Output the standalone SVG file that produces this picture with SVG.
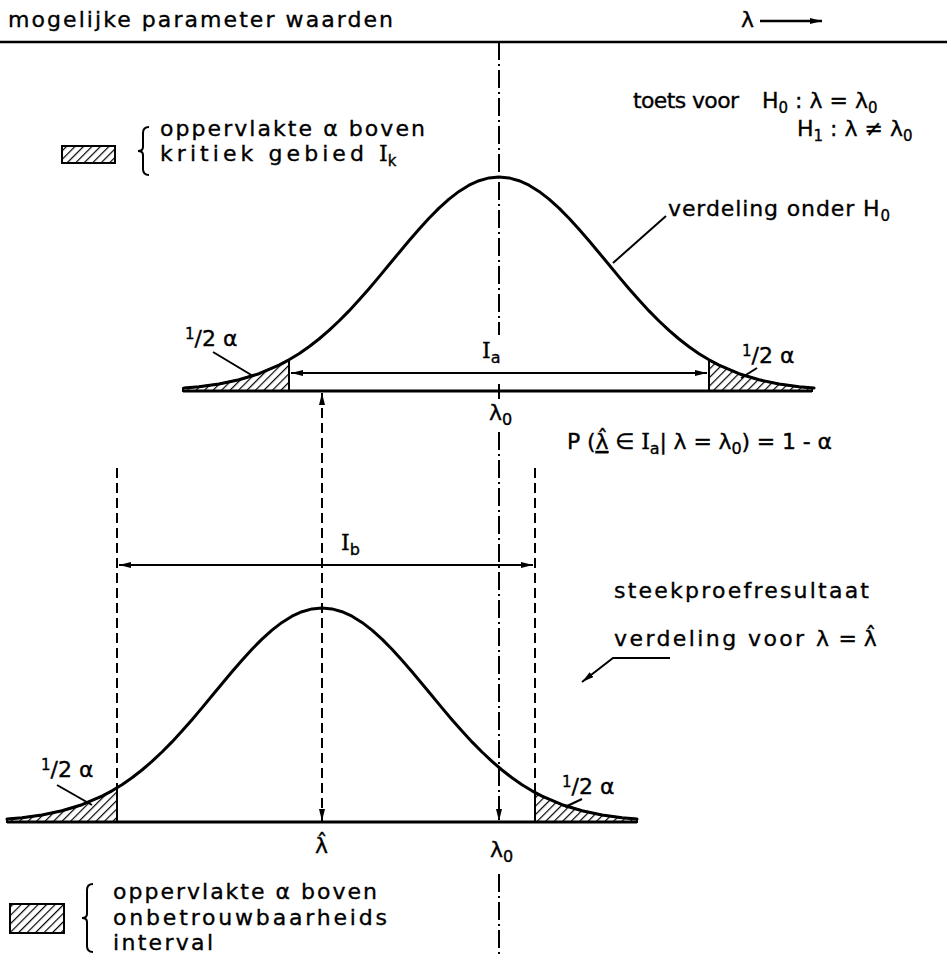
<svg xmlns="http://www.w3.org/2000/svg" width="947" height="957" viewBox="0 0 947 957">
<style>
text{font-family:"DejaVu Sans","Liberation Sans",sans-serif;font-size:22px;fill:#000;stroke:#000;stroke-width:0.35}
.cap{font-family:"DejaVu Serif","Liberation Serif",serif}
.curve{fill:none;stroke:#000;stroke-width:3;stroke-linejoin:round;stroke-linecap:round}
.base{stroke:#000;stroke-width:3;fill:none}
.thin{stroke:#000;stroke-width:2;fill:none}
.arr{stroke:#000;stroke-width:2;fill:none;marker-start:url(#ah);marker-end:url(#ah)}
.dash{stroke:#000;stroke-width:2;fill:none;stroke-dasharray:10 5}
.dd{stroke:#000;stroke-width:2;fill:none;stroke-dasharray:18 4 2 4}
.hatch{fill:url(#hp);stroke:#000;stroke-width:2}
</style>
<defs>
<pattern id="hp" patternUnits="userSpaceOnUse" width="6" height="6" patternTransform="rotate(45)">
<rect width="6" height="6" fill="#fff"/>
<line x1="0" y1="0" x2="0" y2="6" stroke="#000" stroke-width="2.4"/>
</pattern>
<marker id="ah" viewBox="0 0 12 6" refX="12" refY="3" markerWidth="12" markerHeight="6" markerUnits="userSpaceOnUse" orient="auto-start-reverse">
<path d="M0,0 L12,3 L0,6 z" fill="#000"/>
</marker>
<path id="gauss" d="M-315,-2.9 L-300,-4.2 L-280,-7 L-260,-11.2 L-240,-17.3 L-220,-25.9 L-210,-31.2 L-200,-37.3 L-190,-44.2 L-180,-52 L-170,-60.6 L-160,-70 L-150,-80.1 L-140,-90.9 L-130,-102.3 L-120,-114.1 L-110,-126.2 L-100,-138.3 L-90,-150.3 L-80,-161.8 L-70,-172.8 L-60,-182.9 L-50,-191.9 L-40,-199.6 L-30,-205.8 L-20,-210.3 L-10,-213.1 L0,-214 L10,-213.1 L20,-210.3 L30,-205.8 L40,-199.6 L50,-191.9 L60,-182.9 L70,-172.8 L80,-161.8 L90,-150.3 L100,-138.3 L110,-126.2 L120,-114.1 L130,-102.3 L140,-90.9 L150,-80.1 L160,-70 L170,-60.6 L180,-52 L190,-44.2 L200,-37.3 L210,-31.2 L220,-25.9 L240,-17.3 L260,-11.2 L280,-7 L300,-4.2 L315,-2.9"/>
</defs>
<rect width="947" height="957" fill="#fff"/>

<g id="axis">
<line x1="0" y1="42" x2="947" y2="42" stroke="#000" stroke-width="2.5"/>
<text x="8" y="27" textLength="385" lengthAdjust="spacing">mogelijke  parameter waarden</text>
<text x="741" y="27">λ</text>
<line x1="760" y1="21" x2="822" y2="21" stroke="#000" stroke-width="2.5" marker-end="url(#ah)"/>
</g>

<g id="hypothesis">
<text x="633" y="108"><tspan textLength="106" lengthAdjust="spacing">toets voor</tspan><tspan x="762">H</tspan><tspan font-size="15" dy="5">0</tspan><tspan dy="-5"> : λ = λ</tspan><tspan font-size="15" dy="5">0</tspan></text>
<text x="797" y="136">H<tspan font-size="15" dy="5">1</tspan><tspan dy="-5"> : λ ≠ λ</tspan><tspan font-size="15" dy="5">0</tspan></text>
</g>

<g id="legend-top">
<rect x="62" y="146" width="53" height="17" class="hatch"/>
<path d="M149,127 Q143,127 143,133 L143,147 Q143,151 138,151 Q143,151 143,155 L143,169 Q143,175 149,175" class="thin"/>
<text x="160" y="136" textLength="265" lengthAdjust="spacing">oppervlakte α boven</text>
<text x="160" y="161"><tspan textLength="215" lengthAdjust="spacing">kritiek gebied </tspan><tspan class="cap">I</tspan><tspan font-size="15" dy="5">k</tspan></text>
</g>

<g id="dist-h0">
<path class="hatch" d="M183,391 L183,388.1 L199,386.8 L219,384 L239,379.8 L259,373.7 L279,365.1 L289,359.8 L289,391 Z"/>
<path class="hatch" d="M709,391 L709,359.8 L719,365.1 L739,373.7 L759,379.8 L779,384 L799,386.8 L812,388.2 L812,391 Z"/>
<use href="#gauss" class="curve" transform="translate(499,391)"/>
<line x1="183" y1="391" x2="812" y2="391" class="base"/>
<line x1="499" y1="384" x2="499" y2="399" class="thin"/>
<text x="668" y="216" textLength="222" lengthAdjust="spacing">verdeling onder H<tspan font-size="15" dy="5">0</tspan></text>
<line x1="666" y1="216" x2="613" y2="263" class="thin"/>
<text x="185" y="346"><tspan font-size="15" dy="-7">1</tspan><tspan dy="7">/2 α</tspan></text>
<line x1="213" y1="352" x2="253" y2="376" class="thin"/>
<text x="742" y="363"><tspan font-size="15" dy="-7">1</tspan><tspan dy="7">/2 α</tspan></text>
<line x1="757" y1="368" x2="741" y2="378" class="thin"/>
<text x="482" y="358"><tspan class="cap">I</tspan><tspan font-size="16" dy="5">a</tspan></text>
<text x="489" y="420">λ<tspan font-size="16" dy="5">0</tspan></text>
</g>

<g id="probability">
<text x="567" y="449" textLength="265" lengthAdjust="spacing">P (<tspan text-decoration="underline">λ̂</tspan> ∈ <tspan class="cap">I</tspan><tspan font-size="16" dy="5">a</tspan><tspan dy="-5">| λ = λ</tspan><tspan font-size="16" dy="5">0</tspan><tspan dy="-5">) = 1 - α</tspan></text>
</g>

<g id="dist-sample">
<path class="hatch" d="M7,822 L7,819.1 L22,817.8 L42,815 L62,810.8 L82,804.7 L102,796.1 L112,790.8 L117,787.8 L117,822 Z"/>
<path class="hatch" d="M535,822 L535,792.5 L542,796.1 L562,804.7 L582,810.8 L602,815 L622,817.8 L637,819.1 L637,822 Z"/>
<use href="#gauss" class="curve" transform="translate(322,822)"/>
<line x1="7" y1="822" x2="637" y2="822" class="base"/>
<text x="41" y="777"><tspan font-size="15" dy="-7">1</tspan><tspan dy="7">/2 α</tspan></text>
<line x1="57" y1="785" x2="92" y2="805" class="thin"/>
<text x="562" y="794"><tspan font-size="15" dy="-7">1</tspan><tspan dy="7">/2 α</tspan></text>
<line x1="582" y1="799" x2="565" y2="807" class="thin"/>
<text x="341" y="550"><tspan class="cap">I</tspan><tspan font-size="16" dy="5">b</tspan></text>
<text x="315" y="853">λ̂</text>
<text x="490" y="857">λ<tspan font-size="16" dy="5">0</tspan></text>
<text x="614" y="598" textLength="255" lengthAdjust="spacing">steekproefresultaat</text>
<text x="614" y="646"><tspan textLength="215" lengthAdjust="spacing">verdeling voor λ</tspan> = λ̂</text>
</g>

<g id="connectors">
<line x1="291" y1="373" x2="707" y2="373" class="arr"/>
<line x1="119" y1="565" x2="533" y2="565" class="arr"/>
<line x1="117" y1="468" x2="117" y2="822" class="dash"/>
<line x1="535" y1="468" x2="535" y2="822" class="dash"/>
<line x1="322" y1="393" x2="322" y2="821" class="arr" style="stroke-dasharray:10 5"/>
<line x1="499" y1="42" x2="499" y2="335" class="dd"/>
<line x1="499" y1="432" x2="499" y2="821" class="dd" marker-end="url(#ah)"/>
<line x1="499" y1="874" x2="499" y2="957" class="dd"/>
<polyline points="670,658 613,658 582,682" class="thin" marker-end="url(#ah)"/>
</g>

<g id="legend-bottom">
<rect x="10" y="904" width="54" height="29" class="hatch"/>
<path d="M93,884 Q87,884 87,890 L87,914 Q87,918 82,918 Q87,918 87,922 L87,946 Q87,952 93,952" class="thin"/>
<text x="113" y="899" textLength="264" lengthAdjust="spacing">oppervlakte α boven</text>
<text x="113" y="925" textLength="274" lengthAdjust="spacing">onbetrouwbaarheids</text>
<text x="113" y="950" textLength="100" lengthAdjust="spacing">interval</text>
</g>
</svg>
